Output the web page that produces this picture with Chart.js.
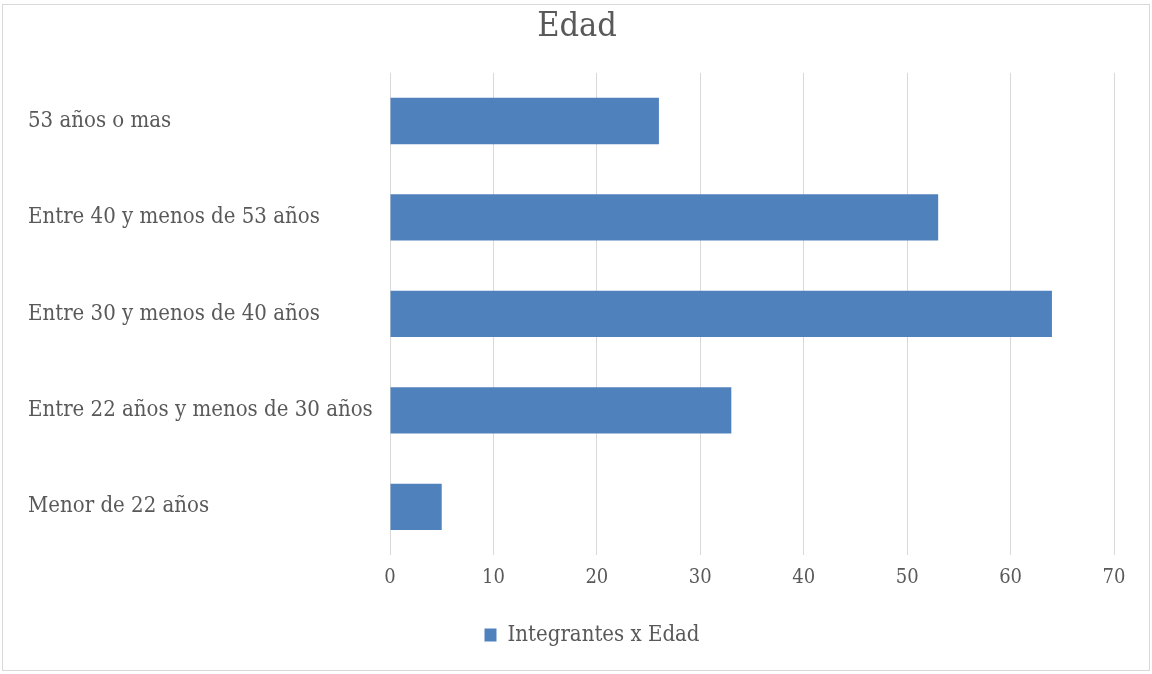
<!DOCTYPE html>
<html>
<head>
<meta charset="utf-8">
<script src="https://cdn.jsdelivr.net/npm/chart.js@4.4.1/dist/chart.umd.min.js"></script>
<style>
    body { margin: 0; background: #fff; }
    #frame { position: absolute; left: 2px; top: 4px; width: 1146px; height: 665px; border: 1px solid #d9d9d9; }
    #wrap { position: absolute; left: 0; top: 0; width: 1152px; height: 674px; }
</style>
</head>
<body>
<div id="frame"></div>
<div id="wrap"><canvas id="chart-1"></canvas></div>
<script>
var categories = [
    '53 años o mas',
    'Entre 40 y menos de 53 años',
    'Entre 30 y menos de 40 años',
    'Entre 22 años y menos de 30 años',
    'Menor de 22 años'
];
var integrantes = [26, 53, 64, 33, 5];
var xTicks = [0, 10, 20, 30, 40, 50, 60, 70];

var fontFamily = '"DejaVu Serif Condensed", "DejaVu Serif", serif';
var textColor = '#595959';

// title and legend sit a bit right of the canvas centre
var shiftBoxes = {
    id: 'shiftBoxes',
    afterLayout: function (chart) {
        chart.titleBlock.left += 6;
        chart.titleBlock.right += 6;
        chart.legend.left += 21;
        chart.legend.right += 21;
    }
};

new Chart('chart-1', {
    type: 'bar',
    data: {
        labels: categories,
        datasets: [{
            label: 'Integrantes x Edad',
            data: integrantes,
            backgroundColor: '#4f81bd',
            borderWidth: 0,
            categoryPercentage: 0.48,
            barPercentage: 1
        }]
    },
    options: {
        indexAxis: 'y',
        responsive: true,
        maintainAspectRatio: false,
        animation: false,
        layout: {
            padding: { left: 28, right: 38, top: 0, bottom: 18 }
        },
        plugins: {
            title: {
                display: true,
                text: 'Edad',
                color: textColor,
                font: { family: fontFamily, size: 34, weight: 'normal', lineHeight: 1.2 },
                padding: { top: 7, bottom: 25 }
            },
            legend: {
                position: 'bottom',
                labels: {
                    color: textColor,
                    font: { family: fontFamily, size: 22 },
                    boxWidth: 12,
                    boxHeight: 13,
                    padding: 10
                }
            },
            tooltip: { enabled: false }
        },
        scales: {
            x: {
                min: 0,
                max: 70,
                afterBuildTicks: function (axis) {
                    axis.ticks = xTicks.map(function (v) { return { value: v }; });
                },
                grid: { color: '#d9d9d9', drawTicks: false },
                border: { display: false },
                ticks: {
                    color: textColor,
                    font: { family: fontFamily, size: 20 },
                    padding: 11
                },
                afterFit: function (axis) { axis.height = 59; }
            },
            y: {
                grid: { display: false },
                border: { display: false },
                ticks: {
                    color: textColor,
                    font: { family: fontFamily, size: 22 },
                    crossAlign: 'far'
                },
                afterFit: function (axis) { axis.width = 362; }
            }
        }
    },
    plugins: [shiftBoxes]
});
</script>
</body>
</html>
